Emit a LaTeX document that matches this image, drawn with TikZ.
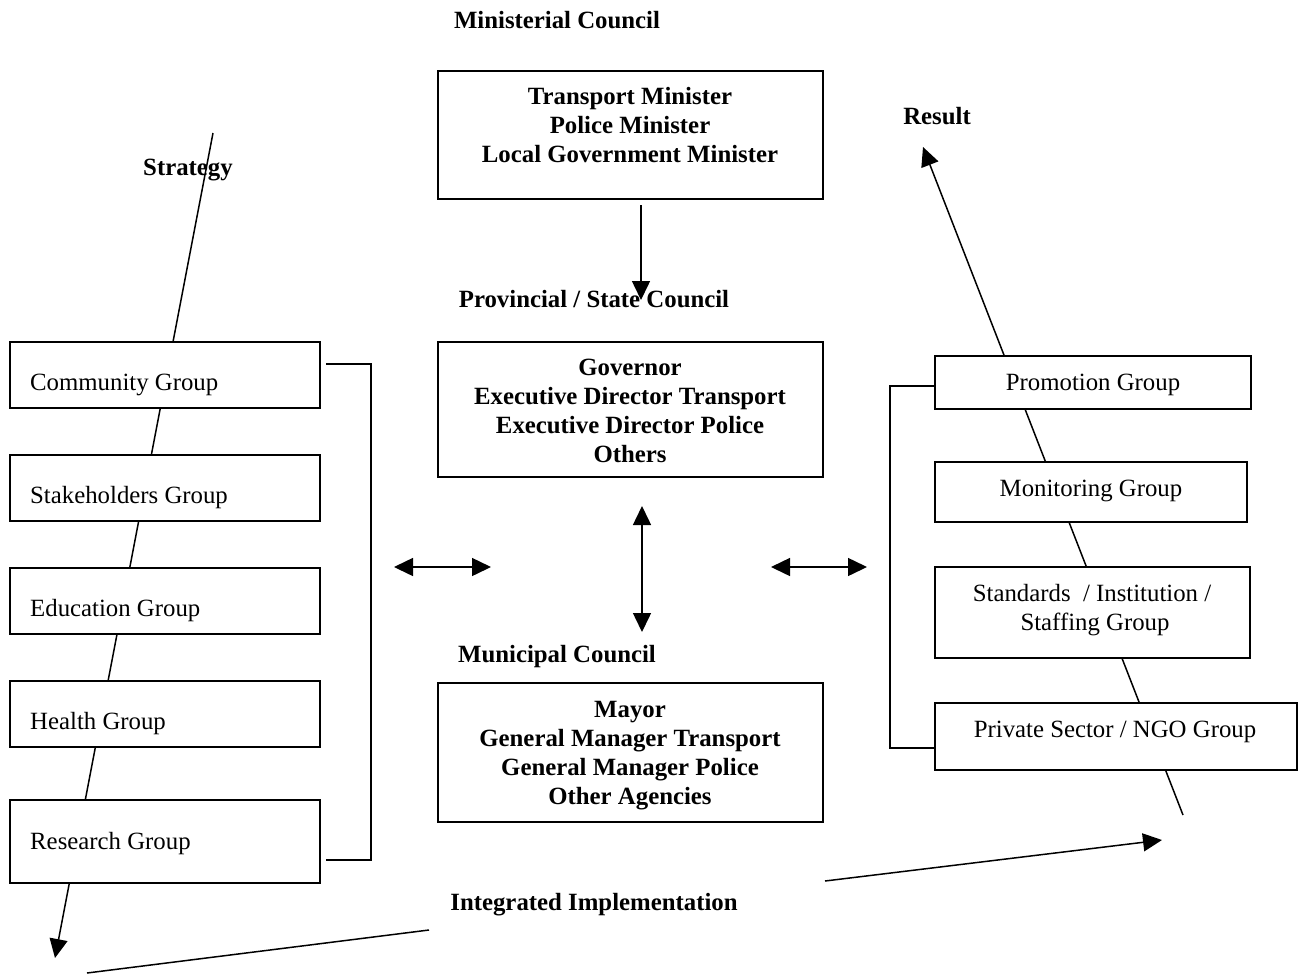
\documentclass[tikz,border=0pt]{standalone}
\usepackage{fontspec}
\setmainfont{Liberation Serif}
\usetikzlibrary{arrows.meta}
\tikzset{
  boxshape/.style={draw, line width=1.8pt, fill=white, inner sep=0pt, outer sep=0pt, anchor=north west},
  gtxt/.style={inner sep=0pt, font=\fontsize{24.8}{29}\selectfont},
  btxt/.style={inner sep=0pt, align=center, font=\fontsize{24.8}{29}\selectfont\bfseries},
  conn/.style={line width=1.5pt},
  tip/.style={-{Triangle[length=19pt,width=18pt]}},
  dtip/.style={{Triangle[length=19pt,width=18pt]}-{Triangle[length=19pt,width=18pt]}}
}
\begin{document}
\begin{tikzpicture}[x=1pt,y=-1pt]
\useasboundingbox[fill=white] (0,0) rectangle (1301,978);

% free-end coordinates of the long connectors
\coordinate (stTop) at (213,133);
\coordinate (stEnd) at (55,958);
\coordinate (reStart) at (1183,815);
\coordinate (reEnd) at (923,147);

% strategy and result lines (behind the boxes)
\draw[conn, tip] (stTop) -- (stEnd);
\draw[conn, tip] (reStart) -- (reEnd);

% left group boxes
\node[boxshape, minimum width=310pt, minimum height=66pt] (comm) at (10,342) {};
\node[boxshape, minimum width=310pt, minimum height=66pt] (stake) at (10,455) {};
\node[boxshape, minimum width=310pt, minimum height=66pt] (edu) at (10,568) {};
\node[boxshape, minimum width=310pt, minimum height=66pt] (health) at (10,681) {};
\node[boxshape, minimum width=310pt, minimum height=83pt] (res) at (10,800) {};
\node[gtxt, anchor=base west] (commT) at (30,390) {Community Group};
\node[gtxt, anchor=base west] (stakeT) at (30,503) {Stakeholders Group};
\node[gtxt, anchor=base west] (eduT) at (30,616) {Education Group};
\node[gtxt, anchor=base west] (healthT) at (30,729) {Health Group};
\node[gtxt, anchor=base west] (resT) at (30,849) {Research Group};

% centre boxes
\node[boxshape, minimum width=385pt, minimum height=128pt] (mini) at (438,71) {};
\node[boxshape, minimum width=385pt, minimum height=135pt] (prov) at (438,342) {};
\node[boxshape, minimum width=385pt, minimum height=139pt] (muni) at (438,683) {};
\node[btxt, anchor=north] (miniT) at (630,87) {Transport Minister\\Police Minister\\Local Government Minister};
\node[btxt, anchor=north] (provT) at (630,359) {Governor\\Executive Director Transport\\Executive Director Police\\Others};
\node[btxt, anchor=north] (muniT) at (630,701) {Mayor\\General Manager Transport\\General Manager Police\\Other Agencies};

% right group boxes
\node[boxshape, minimum width=316pt, minimum height=53pt] (prom) at (935,356) {};
\node[boxshape, minimum width=312pt, minimum height=60pt] (mon) at (935,462) {};
\node[boxshape, minimum width=315pt, minimum height=91pt] (std) at (935,567) {};
\node[boxshape, minimum width=362pt, minimum height=67pt] (priv) at (935,703) {};
\node[gtxt, anchor=base] (promT) at (1093,390) {Promotion Group};
\node[gtxt, anchor=base] (monT) at (1091,496) {Monitoring Group};
\node[gtxt, anchor=base] (stdT) at (1092,601) {Standards \ / Institution /};
\node[gtxt, anchor=base] (stdT2) at (1095,630) {Staffing Group};
\node[gtxt, anchor=base] (privT) at (1115,737) {Private Sector / NGO Group};

% headings
\node[btxt] (hMin) at (557,20) {Ministerial Council};
\node[btxt] (hProv) at (594,299) {Provincial / State Council};
\node[btxt] (hMuni) at (557,657) {Municipal Council};
\node[btxt] (hStr) at (188,170) {Strategy};
\node[btxt] (hRes) at (937,116) {Result};
\node[btxt] (hInt) at (594,905) {Integrated Implementation};

% coordinates for connectors
\coordinate (miA) at (641,205);
\coordinate (miB) at (641,300);
\coordinate (vA) at (642,506);
\coordinate (vB) at (642,632);
\coordinate (lA) at (394,567);
\coordinate (lB) at (491,567);
\coordinate (rA) at (771,567);
\coordinate (rB) at (867,567);
\coordinate (lbr1) at (326,364);
\coordinate (lbr2) at (371,364);
\coordinate (lbr3) at (371,860);
\coordinate (lbr4) at (326,860);
\coordinate (rbr1) at (890,386);
\coordinate (rbr2) at (890,748);
\coordinate (iA) at (87,973);
\coordinate (iB) at (429,930);
\coordinate (iC) at (825,881);
\coordinate (iD) at (1162,840);

\draw[conn, tip] (miA) -- (miB);
\draw[conn, dtip] (vA) -- (vB);
\draw[conn, dtip] (lA) -- (lB);
\draw[conn, dtip] (rA) -- (rB);
\draw[conn] (lbr1) -- (lbr2) -- (lbr3) -- (lbr4);
\draw[conn] (prom.west |- rbr1) -- (rbr1) -- (rbr2) -- (priv.west |- rbr2);
\draw[conn] (iA) -- (iB);
\draw[conn, tip] (iC) -- (iD);
\end{tikzpicture}
\end{document}
